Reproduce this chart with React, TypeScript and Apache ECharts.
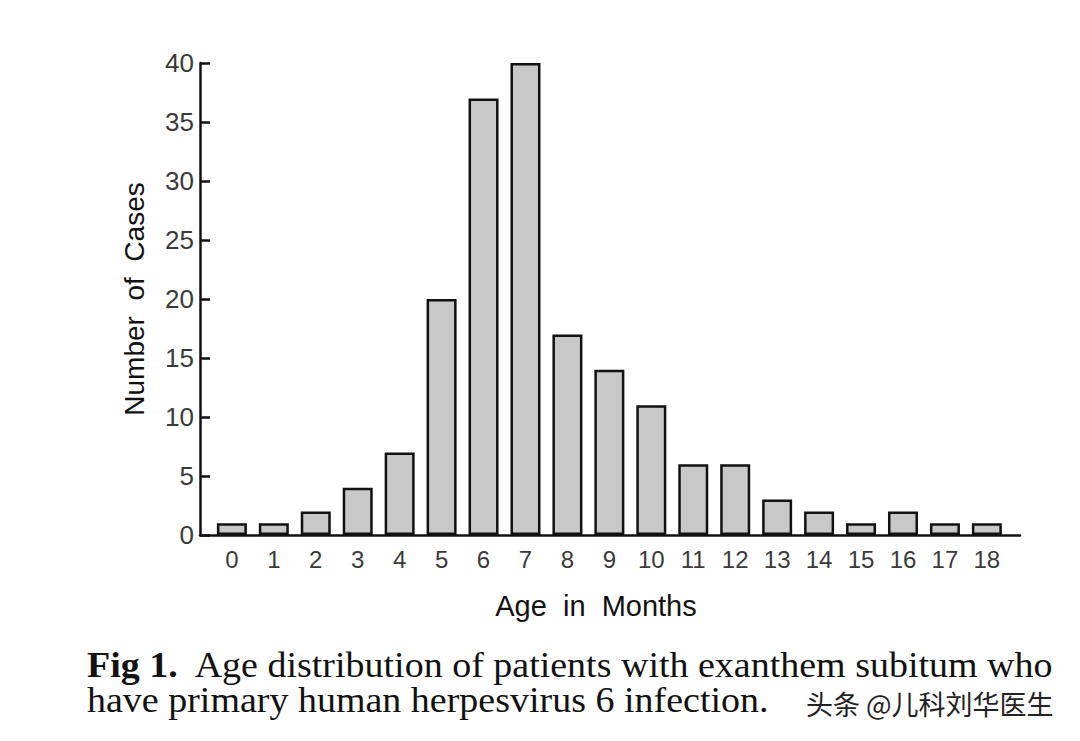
import React, { useEffect, useRef } from "react";
import * as echarts from "echarts";

const months = [0, 1, 2, 3, 4, 5, 6, 7, 8, 9, 10, 11, 12, 13, 14, 15, 16, 17, 18];
const cases = [1, 1, 2, 4, 7, 20, 37, 40, 17, 14, 11, 6, 6, 3, 2, 1, 2, 1, 1];
const yTicks = { min: 0, max: 40, interval: 5 };
const xTitle = "Age  in  Months";
const yTitle = "Number  of  Cases";
const captionBold = "Fig 1.";
const captionLine1 = "  Age distribution of patients with exanthem subitum who";
const captionLine2 = "have primary human herpesvirus 6 infection.";
const watermark = "头条 @儿科刘华医生";

export default function App() {
  const ref = useRef<HTMLDivElement>(null);
  useEffect(() => {
    if (!ref.current) return;
    const chart = echarts.init(ref.current, undefined, { renderer: "svg" });
    const sans = "'Liberation Sans', Arial, sans-serif";
    const serif = "'Liberation Serif', 'Times New Roman', serif";
    chart.setOption({
      animation: false,
      backgroundColor: "#ffffff",
      grid: { left: 200, right: 60, top: 63, bottom: 206 },
      xAxis: {
        type: "value",
        min: -0.76,
        max: 18.79,
        splitNumber: 20,
        name: xTitle,
        nameLocation: "middle",
        nameGap: 56,
        nameTextStyle: { fontFamily: sans, fontSize: 29, color: "#111", padding: [0, 28, 0, 0] },
        axisLine: { show: true, onZero: false, lineStyle: { color: "#111", width: 2.5 } },
        axisTick: { show: false },
        splitLine: { show: false },
        axisLabel: {
          showMinLabel: false,
          showMaxLabel: false,
          margin: 12,
          fontFamily: sans,
          fontSize: 24,
          color: "#3a3a3a",
          formatter: (v: number) => (Math.abs(v - Math.round(v)) < 1e-6 ? String(Math.abs(Math.round(v))) : ""),
        },
      },
      yAxis: {
        type: "value",
        min: yTicks.min,
        max: yTicks.max,
        interval: yTicks.interval,
        name: yTitle,
        nameLocation: "middle",
        nameGap: 52,
        nameTextStyle: { fontFamily: sans, fontSize: 28, color: "#111" },
        axisLine: { show: true, onZero: false, lineStyle: { color: "#111", width: 2.5 } },
        axisTick: { show: true, inside: true, length: 10, lineStyle: { color: "#111", width: 2.5 } },
        splitLine: { show: false },
        axisLabel: { margin: 6, fontFamily: sans, fontSize: 26, color: "#3a3a3a" },
      },
      series: [
        {
          type: "bar",
          data: months.map((m, i) => [m, cases[i]]),
          barWidth: 30,
          itemStyle: { color: "#c8c8c8", borderColor: "#111", borderWidth: 2.5 },
        },
      ],
      graphic: [
        {
          type: "text",
          x: 87,
          y: 648,
          scaleX: 1.086,
          style: {
            text: "{b|" + captionBold + "}{r|" + captionLine1 + "}\n{r|" + captionLine2 + "}",
            fontFamily: serif,
            fontSize: 35,
            lineHeight: 35,
            fill: "#111",
            rich: {
              b: { fontFamily: serif, fontSize: 35, lineHeight: 35, fontWeight: "bold", fill: "#111" },
              r: { fontFamily: serif, fontSize: 35, lineHeight: 35, fill: "#111" },
            },
          },
        },
        {
          type: "text",
          x: 806,
          y: 690,
          style: { text: watermark, fontFamily: "'Noto Sans CJK SC', sans-serif", fontSize: 27, lineHeight: 27, fill: "#222" },
        },
      ],
    });
    return () => chart.dispose();
  }, []);
  return <div ref={ref} style={{ position: "absolute", left: 0, top: 0, width: 1080, height: 741 }} />;
}
